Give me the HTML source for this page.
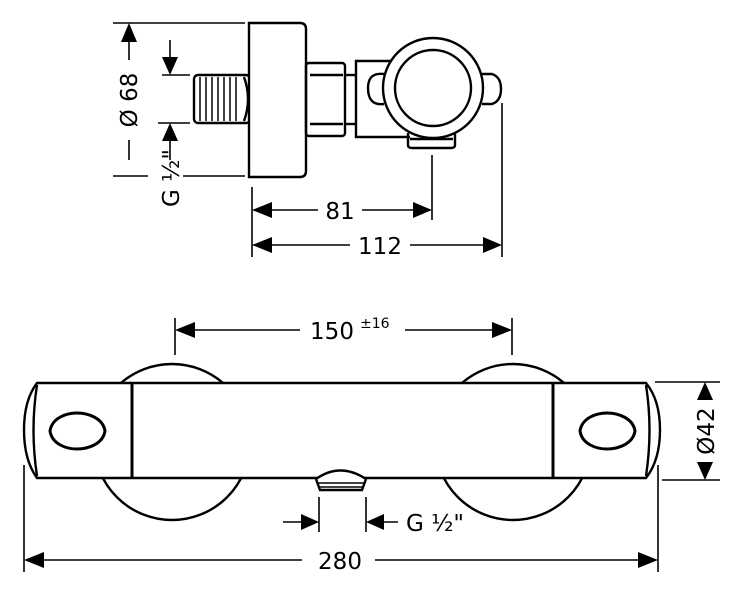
<!DOCTYPE html>
<html><head><meta charset="utf-8"><style>
html,body{margin:0;padding:0;background:#fff;}
svg{display:block;}
text{font-family:"DejaVu Sans","Liberation Sans",sans-serif;fill:#000;}
</style></head><body>
<svg width="742" height="594" viewBox="0 0 742 594" xmlns="http://www.w3.org/2000/svg">
<g fill="none" stroke="#000" stroke-width="2.4">
<rect x="194" y="75" width="56" height="48" rx="4"/>
<g stroke-width="1.5">
<line x1="200" y1="77" x2="200" y2="121"/><line x1="206" y1="77" x2="206" y2="121"/>
<line x1="212" y1="77" x2="212" y2="121"/><line x1="218" y1="77" x2="218" y2="121"/>
<line x1="224" y1="77" x2="224" y2="121"/><line x1="230" y1="77" x2="230" y2="121"/>
<line x1="236" y1="77" x2="236" y2="121"/>
</g>
<path d="M244 77 Q252 99 244 121"/>
<path d="M249 23 H300 Q306 23 306 29 V171 Q306 177 300 177 H249 Z" fill="#fff"/>
<rect x="306" y="63" width="39" height="73" rx="3"/>
<line x1="310" y1="75" x2="343" y2="75"/><line x1="310" y1="124" x2="343" y2="124"/>
<line x1="345" y1="75" x2="355" y2="75"/><line x1="345" y1="124" x2="355" y2="124"/>
<path d="M390 61 H356 V137 H410"/>
<path d="M384 74 Q368 72 368 88 Q368 106 384 104"/>
<path d="M482 74 H492 Q501 77 501 89 Q501 101 492 104 H482"/>
<path d="M408 133 V145 Q408 148 412 148 H451 Q455 148 455 145 V133"/>
<line x1="410" y1="139" x2="453" y2="139"/>
<circle cx="433" cy="88" r="50" fill="#fff"/>
<circle cx="433" cy="88" r="38"/>
<g stroke-width="1.6">
<line x1="113" y1="23" x2="245" y2="23"/>
<line x1="113" y1="176" x2="148" y2="176"/><line x1="183" y1="176" x2="245" y2="176"/>
<line x1="129" y1="42" x2="129" y2="60"/><line x1="129" y1="140" x2="129" y2="160"/>
<line x1="170" y1="40" x2="170" y2="58"/><line x1="170" y1="140" x2="170" y2="160"/>
<line x1="162" y1="75" x2="190" y2="75"/><line x1="158" y1="123" x2="190" y2="123"/>
<line x1="252" y1="187" x2="252" y2="257"/>
<line x1="432" y1="155" x2="432" y2="220"/>
<line x1="502" y1="103" x2="502" y2="257"/>
<line x1="270" y1="210" x2="318" y2="210"/><line x1="362" y1="210" x2="415" y2="210"/>
<line x1="270" y1="245" x2="350" y2="245"/><line x1="410" y1="245" x2="485" y2="245"/>
</g>
</g>
<g fill="#000" stroke="none">
<polygon points="129,23 121,42 137,42"/>
<polygon points="170,75 162,57 178,57"/>
<polygon points="170,123 162,141 178,141"/>
<polygon points="252,210 272,202 272,218"/>
<polygon points="432,210 413,202 413,218"/>
<polygon points="252,245 272,237 272,253"/>
<polygon points="502,245 483,237 483,253"/>
</g>
<text x="0" y="0" font-size="23" text-anchor="middle" transform="translate(137,100) rotate(-90)">Ø 68</text>
<text x="0" y="0" font-size="23" text-anchor="middle" transform="translate(179,178) rotate(-90)">G ½"</text>
<text x="340" y="219" font-size="23" text-anchor="middle">81</text>
<text x="380" y="254" font-size="23" text-anchor="middle">112</text>

<g fill="none" stroke="#000" stroke-width="2.4">
<circle cx="172" cy="442" r="78"/>
<circle cx="513" cy="442" r="78"/>
<path d="M37 383 H646 Q660 400 660 430 Q660 460 646 478 H37 Q24 460 24 430 Q24 400 37 383 Z" fill="#fff"/>
<path d="M37 385 Q30 430 37 476"/><path d="M646 385 Q653 430 646 476"/>
<line x1="132" y1="383" x2="132" y2="478" stroke-width="3"/>
<line x1="553" y1="383" x2="553" y2="478" stroke-width="3"/>
<path d="M50 431 C52 418 66 413 77 413 C88 413 103 418 105 431 C103 444 88 449 77 449 C66 449 52 444 50 431 Z" stroke-width="3"/>
<path d="M580 431 C582 418 596 413 607 413 C618 413 633 418 635 431 C633 444 618 449 607 449 C596 449 582 444 580 431 Z" stroke-width="3"/>
<path d="M316 479 Q340 462 366 479 L362 490 H320 Z" fill="#fff"/>
<line x1="318" y1="483" x2="364" y2="483" stroke-width="1.5"/>
<line x1="319" y1="487" x2="363" y2="487" stroke-width="1.5"/>
<g stroke-width="1.6">
<line x1="175" y1="318" x2="175" y2="355"/><line x1="512" y1="318" x2="512" y2="355"/>
<line x1="195" y1="330" x2="300" y2="330"/><line x1="405" y1="330" x2="492" y2="330"/>
<line x1="319" y1="497" x2="319" y2="532"/><line x1="366" y1="497" x2="366" y2="532"/>
<line x1="283" y1="522" x2="305" y2="522"/><line x1="380" y1="522" x2="398" y2="522"/>
<line x1="24" y1="465" x2="24" y2="572"/><line x1="658" y1="465" x2="658" y2="572"/>
<line x1="44" y1="560" x2="302" y2="560"/><line x1="375" y1="560" x2="638" y2="560"/>
<line x1="655" y1="382" x2="720" y2="382"/><line x1="662" y1="480" x2="720" y2="480"/>
</g>
</g>
<g fill="#000" stroke="none">
<polygon points="175,330 195,322 195,338"/>
<polygon points="512,330 492,322 492,338"/>
<polygon points="319,522 301,514 301,530"/>
<polygon points="366,522 384,514 384,530"/>
<polygon points="24,560 44,552 44,568"/>
<polygon points="658,560 638,552 638,568"/>
<polygon points="705,382 697,400 713,400"/>
<polygon points="705,480 697,462 713,462"/>
</g>
<text x="332" y="339" font-size="23" text-anchor="middle">150</text>
<text x="360" y="328" font-size="14">±16</text>
<text x="406" y="531" font-size="23">G ½"</text>
<text x="340" y="569" font-size="23" text-anchor="middle">280</text>
<text x="0" y="0" font-size="23" text-anchor="middle" transform="translate(714,431) rotate(-90)">Ø42</text>
</svg>
</body></html>
